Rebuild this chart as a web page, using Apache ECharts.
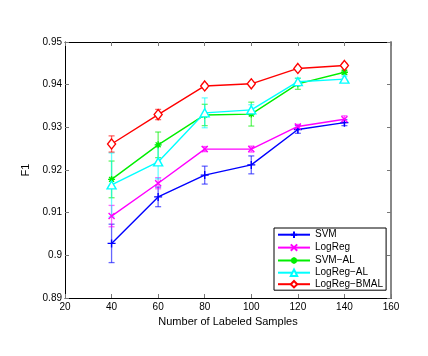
<!DOCTYPE html>
<html>
<head>
<meta charset="utf-8">
<script src="https://cdn.jsdelivr.net/npm/echarts@6/dist/echarts.min.js"></script>
<style>html,body{margin:0;padding:0;background:#fff}#c{width:428px;height:356px}</style>
</head>
<body>
<div id="c"></div>
<script>
const xValues = [40, 60, 80, 100, 120, 140];
const seriesNames = ['SVM', 'LogReg', 'SVM\u2212AL', 'LogReg\u2212AL', 'LogReg\u2212BMAL'];
const svm = [0.9028, 0.9137, 0.9188, 0.9212, 0.9295, 0.9311];
const svmErr = [0.0045, 0.0023, 0.0021, 0.0021, 0.0009, 0.0007];
const logreg = [0.9092, 0.9169, 0.9249, 0.9249, 0.9302, 0.9319];
const logregErr = [0.0025, 0.0013, 0.0006, 0.0007, 0.0005, 0.0008];
const svmAl = [0.9178, 0.9259, 0.9329, 0.9331, 0.9402, 0.9429];
const svmAlErr = [0.0043, 0.0030, 0.0025, 0.0028, 0.0013, 0.0005];
const logregAl = [0.9165, 0.9219, 0.9334, 0.9341, 0.9407, 0.9413];
const logregAlErr = [0.0075, 0.0040, 0.0035, 0.0012, 0.0008, 0.0007];
const bmal = [0.9261, 0.9330, 0.9397, 0.9402, 0.9438, 0.9445];
const bmalErr = [0.0019, 0.0012, 0.0005, 0.0004, 0.0003, 0.0005];

const values = [svm, logreg, svmAl, logregAl, bmal];
const errors = [svmErr, logregErr, svmAlErr, logregAlErr, bmalErr];
const colors = ['#0000ff', '#ff00ff', '#00ee00', '#00ffff', '#ff0000'];
const symbols = [
  'path://M0,-1L0,1M-1,0L1,0',
  'path://M-1,-1L1,1M-1,1L1,-1',
  'path://M0,-1L0,1M-1,0L1,0M-0.7,-0.7L0.7,0.7M-0.7,0.7L0.7,-0.7',
  'triangle',
  'diamond'
];
const symbolSizes = [[8, 8], [6, 6], [7, 7], [9, 8], [8, 10]];
const fills = ['none', 'none', 'none', '#ffffff', '#ffffff'];
const FONT = '"Liberation Sans", Arial, Helvetica, sans-serif';

const chart = echarts.init(document.getElementById('c'), null, {renderer: 'canvas'});

const series = [];
values.forEach((vals, k) => {
  series.push({
    name: seriesNames[k] + ' err',
    type: 'custom',
    silent: true,
    z: 2,
    data: xValues.map((x, i) => [x, vals[i], errors[k][i]]),
    renderItem: function (params, api) {
      const x = api.value(0), y = api.value(1), e = api.value(2);
      const t = api.coord([x, y + e]);
      const b = api.coord([x, y - e]);
      const hw = 3;
      const st = {stroke: colors[k], lineWidth: 1.3, opacity: 0.6};
      return {
        type: 'group',
        children: [
          {type: 'line', shape: {x1: t[0], y1: t[1], x2: b[0], y2: b[1]}, style: st},
          {type: 'line', shape: {x1: t[0] - hw, y1: t[1], x2: t[0] + hw, y2: t[1]}, style: st},
          {type: 'line', shape: {x1: b[0] - hw, y1: b[1], x2: b[0] + hw, y2: b[1]}, style: st}
        ]
      };
    }
  });
});
values.forEach((vals, k) => {
  series.push({
    name: seriesNames[k],
    type: 'line',
    z: 3,
    data: xValues.map((x, i) => [x, vals[i]]),
    symbol: symbols[k],
    symbolSize: symbolSizes[k],
    showAllSymbol: true,
    lineStyle: {color: colors[k], width: 1.4},
    itemStyle: {color: fills[k], borderColor: colors[k], borderWidth: 1.4},
    emphasis: {disabled: true}
  });
});

const axisCommonX = {
  type: 'value', min: 20, max: 160, interval: 20,
  axisLine: {show: true, onZero: false, lineStyle: {color: '#000', width: 1}},
  axisTick: {show: true, inside: true, length: 4, lineStyle: {color: '#777'}},
  splitLine: {show: false}
};
const axisCommonY = {
  type: 'value', min: 0.89, max: 0.95, interval: 0.01,
  axisLine: {show: true, onZero: false, lineStyle: {color: '#000', width: 1}},
  axisTick: {show: true, inside: true, length: 4, lineStyle: {color: '#777'}},
  splitLine: {show: false}
};

chart.setOption({
  animation: false,
  backgroundColor: '#ffffff',
  grid: {left: 65, right: 37, top: 42, bottom: 58, show: false},
  textStyle: {fontFamily: FONT},
  legend: {
    data: seriesNames,
    orient: 'vertical',
    left: 274, top: 228,
    width: 110,
    backgroundColor: '#ffffff',
    borderColor: '#000',
    borderWidth: 1,
    borderRadius: 0,
    padding: [1, 3, 1, 3],
    itemWidth: 32, itemHeight: 8, itemGap: 1.5,
    selectedMode: false,
    textStyle: {fontFamily: FONT, fontSize: 10, color: '#000'}
  },
  xAxis: [
    Object.assign({}, axisCommonX, {
      position: 'bottom',
      name: 'Number of Labeled Samples',
      nameLocation: 'middle', nameGap: 15,
      nameTextStyle: {fontFamily: FONT, fontSize: 11, color: '#000'},
      axisLabel: {margin: 4, fontFamily: FONT, fontSize: 10, color: '#000'}
    }),
    Object.assign({}, axisCommonX, {position: 'top', axisLabel: {show: false}})
  ],
  yAxis: [
    Object.assign({}, axisCommonY, {
      position: 'left',
      name: 'F1',
      nameLocation: 'middle', nameGap: 29, nameRotate: 90,
      nameTextStyle: {fontFamily: FONT, fontSize: 11, color: '#000'},
      axisLabel: {margin: 3, fontFamily: FONT, fontSize: 10, color: '#000',
        formatter: v => String(parseFloat(v.toFixed(2)))}
    }),
    Object.assign({}, axisCommonY, {position: 'right', axisLabel: {show: false},
      axisLine: {show: true, onZero: false, lineStyle: {color: '#888', width: 2}}})
  ],
  series: series
});
</script>
</body>
</html>
